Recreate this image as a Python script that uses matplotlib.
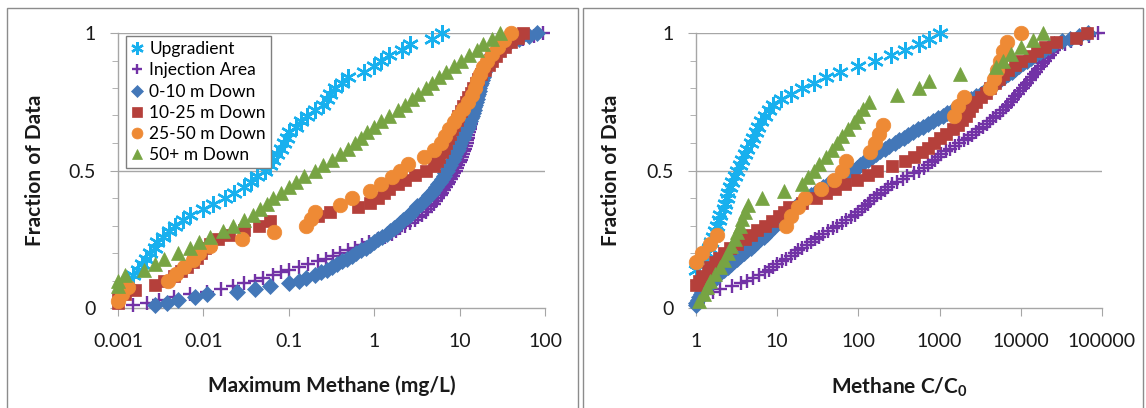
import numpy as np
import matplotlib
matplotlib.use("Agg")
import matplotlib.pyplot as plt
from matplotlib.patches import Rectangle

plt.rcParams['font.family'] = ['Lato', 'DejaVu Sans']
plt.rcParams['mathtext.fontset'] = 'custom'
plt.rcParams['mathtext.rm'] = 'Lato'
plt.rcParams['mathtext.bf'] = 'Lato:bold'

# ---- series names / styles ----
names = ["Upgradient", "Injection Area", "0-10 m Down", "10-25 m Down", "25-50 m Down", "50+ m Down"]
colors = ["#18B0EE", "#7232A6", "#4377B8", "#B5403B", "#EE8A35", "#77A443"]
markers = [(6, 2, 0), "+", "D", "s", "o", "^"]
msizes = [12, 10, 8, 9, 10.5, 9.5]

# ---- left panel: maximum methane (mg/L), sorted values (empirical CDF) ----
# values below 0.001 are non-detects (counted, not visible)
left_upgradient = [0.0005, 0.0005, 0.0005, 0.0011, 0.0013, 0.0015, 0.0017, 0.0019, 0.0021, 0.0024,
                   0.0027, 0.0029, 0.0034, 0.004, 0.0047, 0.0057, 0.007, 0.01, 0.013, 0.018,
                   0.023, 0.03, 0.036, 0.043, 0.052, 0.06, 0.066, 0.073, 0.08, 0.087,
                   0.094, 0.1, 0.12, 0.14, 0.165, 0.2, 0.25, 0.28, 0.3, 0.35,
                   0.42, 0.5, 0.75, 1.0, 1.2, 1.5, 2.1, 2.6, 4.8, 6.3]
left_injection = [0.0015, 0.0022, 0.003, 0.0045, 0.007, 0.011, 0.016, 0.022, 0.03, 0.04,
                  0.05, 0.065, 0.08, 0.1, 0.13, 0.17, 0.22, 0.27, 0.33, 0.4,
                  0.5, 0.6, 0.72, 0.88, 1.1, 1.35, 1.6, 1.8, 2.0, 2.3,
                  2.6, 3.0, 3.3, 3.6, 4.0, 4.3, 4.6, 5.0, 5.3, 5.6,
                  6.0, 6.3, 6.6, 7.0, 7.3, 7.6, 8.0, 8.3, 8.6, 9.0,
                  9.3, 9.6, 10, 10.3, 10.6, 10.9, 11.2, 11.5, 11.8, 12.1,
                  12.3, 12.5, 12.7, 12.9, 13.1, 13.3, 13.5, 13.7, 13.9, 14.1,
                  14.4, 14.7, 15.0, 15.3, 15.6, 15.9, 16.2, 16.5, 16.8, 17.2,
                  17.6, 18.0, 18.4, 18.8, 19.2, 19.6, 20.0, 20.5, 21, 22,
                  23, 24, 26, 28, 31, 35, 42, 55, 75, 95]
left_down0_10 = [0.0027, 0.0037, 0.005, 0.008, 0.011, 0.025, 0.04, 0.06, 0.1, 0.13,
                 0.16, 0.2, 0.24, 0.28, 0.32, 0.37, 0.42, 0.48, 0.55, 0.62,
                 0.7, 0.8, 0.9, 1.0, 1.1, 1.25, 1.4, 1.55, 1.7, 1.85,
                 2.0, 2.2, 2.4, 2.6, 2.8, 3.0, 3.2, 3.5, 3.8, 4.1,
                 4.4, 4.7, 5.0, 5.3, 5.6, 5.9, 6.2, 6.5, 6.8, 7.1,
                 7.4, 7.7, 8.0, 8.3, 8.6, 8.9, 9.2, 9.5, 9.8, 10.1,
                 10.5, 10.9, 11.3, 11.7, 12.1, 12.5, 12.9, 13.3, 13.7, 14.0,
                 14.3, 14.6, 14.9, 15.2, 15.5, 15.8, 16.1, 16.4, 16.7, 17.0,
                 17.4, 17.8, 18.2, 18.6, 19.0, 19.4, 19.8, 20.3, 20.8, 21.5,
                 22.5, 23.5, 25, 27, 30, 34, 40, 50, 65, 80]
left_down10_25 = [0.001, 0.001, 0.0012, 0.0016, 0.0027, 0.0035, 0.0045, 0.0055, 0.0065, 0.0075,
                  0.0085, 0.0095, 0.0105, 0.012, 0.015, 0.02, 0.03, 0.045, 0.06, 0.22,
                  0.3, 0.65, 0.9, 1.1, 1.3, 1.5, 1.9, 2.3, 3.0, 4.0,
                  5.0, 5.5, 5.8, 6.2, 6.6, 7.0, 7.4, 7.8, 8.2, 8.7,
                  9.2, 9.7, 10.3, 11, 11.8, 12.6, 13.5, 14.5, 15.5, 16.5,
                  18, 20, 22, 24, 27, 30, 34, 40, 48, 55]
left_down25_50 = [0.001, 0.0011, 0.0013, 0.0038, 0.0048, 0.006, 0.0075, 0.009, 0.012, 0.028,
                  0.068, 0.16, 0.18, 0.2, 0.4, 0.55, 0.9, 1.2, 1.6, 2.0,
                  2.5, 3.8, 5.0, 6.0, 6.8, 7.5, 8.5, 9.5, 11, 12.5,
                  14, 15, 16, 17.5, 19, 21, 24, 28, 33, 40]
left_down50 = [0.0005, 0.0005, 0.0005, 0.001, 0.001, 0.0012, 0.002, 0.0027, 0.0035, 0.005,
               0.007, 0.009, 0.012, 0.017, 0.022, 0.03, 0.038, 0.046, 0.055, 0.066,
               0.08, 0.1, 0.12, 0.15, 0.2, 0.25, 0.32, 0.4, 0.5, 0.6,
               0.7, 0.82, 1.0, 1.2, 1.5, 1.9, 2.3, 2.8, 3.3, 4.0,
               4.8, 5.8, 7.0, 8.5, 10.5, 13, 16, 19, 24, 30]

# ---- right panel: methane C/C0 ----
right_upgradient = [0.5, 0.5, 0.5, 0.5, 0.5, 0.5, 1.0, 1.1, 1.2, 1.35,
                    1.45, 1.55, 1.6, 1.7, 1.8, 1.9, 2.0, 2.2, 2.3, 2.4,
                    2.5, 2.6, 2.8, 3.0, 3.2, 3.5, 3.7, 4.0, 4.3, 4.7,
                    5.1, 5.5, 5.8, 6.4, 7.0, 8, 9, 11, 15, 20,
                    28, 40, 60, 100, 160, 250, 380, 550, 750, 1000]
right_injection = [1.0, 1.05, 1.1, 1.2, 1.35, 1.6, 2.0, 2.8, 3.6, 4.3,
                   5.0, 6.0, 7.0, 8.0, 9.0, 10, 11.5, 13, 15, 16.5,
                   18, 20, 23, 26, 29, 33, 37, 42, 48, 55,
                   62, 70, 80, 90, 100, 110, 120, 130, 140, 155,
                   170, 190, 210, 230, 260, 300, 350, 400, 480, 560,
                   640, 720, 800, 880, 960, 1050, 1200, 1350, 1550, 1750,
                   2000, 2250, 2500, 2800, 3100, 3400, 3800, 4200, 4600, 5000,
                   5500, 6000, 6500, 7000, 7500, 8000, 8600, 9200, 9800, 10500,
                   11200, 12000, 12800, 13600, 14500, 15500, 16500, 17500, 18700, 20000,
                   21500, 23000, 24500, 26000, 29000, 35000, 42000, 55000, 70000, 90000]
right_down0_10 = [1.0, 1.0, 1.05, 1.1, 1.15, 1.2, 1.3, 1.4, 1.5, 1.6,
                  1.7, 1.85, 2.0, 2.2, 2.45, 2.7, 2.95, 3.2, 3.5, 3.9,
                  4.3, 4.7, 5.2, 5.7, 6.2, 6.8, 7.4, 8.0, 8.6, 9.3,
                  10, 11, 12, 13, 14, 15.5, 17, 19, 21, 23,
                  26, 29, 33, 37, 42, 48, 56, 64, 74, 85,
                  95, 105, 117, 130, 145, 165, 185, 210, 240, 280,
                  320, 360, 410, 470, 540, 620, 720, 830, 950, 1100,
                  1250, 1450, 1650, 1900, 2150, 2450, 2800, 3200, 3600, 4000,
                  4500, 5000, 5600, 6200, 6900, 7700, 8600, 9600, 10700, 12000,
                  13500, 15000, 17000, 19500, 22000, 26000, 32000, 40000, 52000, 67000]
right_down10_25 = [0.5, 0.5, 0.5, 0.5, 1.0, 1.1, 1.2, 1.4, 1.5, 1.7,
                   1.9, 2.2, 2.6, 3.2, 4.0, 4.8, 5.6, 7.0, 8.6, 10.5,
                   12, 14, 20, 30, 40, 52, 68, 95, 130, 170,
                   260, 380, 480, 600, 720, 850, 1000, 1200, 1450, 1700,
                   1900, 2100, 2300, 2500, 2800, 3200, 3700, 4200, 4800, 5400,
                   6000, 7000, 8500, 10000, 13000, 16000, 20000, 27000, 48000, 65000]
right_down25_50 = [0.5, 0.5, 0.5, 0.5, 1.0, 1.2, 1.5, 1.8, 13, 15,
                   18, 22, 35, 50, 62, 70, 140, 160, 180, 200,
                   1500, 1700, 2000, 4200, 4700, 5100, 5500, 6000, 6700, 10000]
right_down50 = [1.1, 1.25, 1.35, 1.5, 1.7, 1.95, 2.2, 2.5, 2.7, 3.0,
                3.2, 3.5, 3.7, 4.0, 4.4, 6.5, 12, 20, 24, 28,
                33, 40, 47, 55, 63, 75, 88, 100, 115, 135,
                300, 550, 750, 1800, 5000, 6000, 7500, 10000, 14000, 19000]

left_sets = [left_upgradient, left_injection, left_down0_10, left_down10_25, left_down25_50, left_down50]
right_sets = [right_upgradient, right_injection, right_down0_10, right_down10_25, right_down25_50, right_down50]

left_ticks = [0.001, 0.01, 0.1, 1, 10, 100]
left_ticklabels = ["0.001", "0.01", "0.1", "1", "10", "100"]
right_ticks = [1, 10, 100, 1000, 10000, 100000]
right_ticklabels = ["1", "10", "100", "1000", "10000", "100000"]

W, H = 1146, 408
fig = plt.figure(figsize=(W / 100, H / 100), dpi=100)

# panel frames
for x0, x1 in [(7, 578), (583, 1143)]:
    fig.patches.append(Rectangle((x0 / W, -0.05), (x1 - x0) / W, (H - 8) / H + 0.05,
                                 transform=fig.transFigure, fill=False,
                                 edgecolor="#8c8c8c", lw=1.0))

grey = "#a6a6a6"


def draw_panel(ax, sets, ticks, ticklabels, xlabel, ylabel_x):
    xmin, xmax = ticks[0], ticks[-1]
    ax.set_xscale("log")
    ax.set_xlim(xmin, xmax)
    ax.set_ylim(0, 1)
    for i, vals in enumerate(sets):
        x = np.array(vals, dtype=float)
        f = np.arange(1, len(x) + 1) / len(x)
        keep = x >= xmin
        ax.plot(x[keep], f[keep], linestyle="none", marker=markers[i], ms=msizes[i],
                color=colors[i], mec=colors[i], mew=1.7 if i < 2 else 0.5,
                label=names[i], clip_on=False, zorder=3 + i)
    ax.set_xticks(ticks)
    ax.set_xticklabels(ticklabels)
    ax.xaxis.set_minor_locator(matplotlib.ticker.NullLocator())
    ax.set_yticks([0, 0.5, 1])
    ax.set_yticklabels(["0", "0.5", "1"])
    ax.set_yticks(np.arange(0, 1.01, 0.1), minor=True)
    for v in (0.5, 1.0):
        ax.axhline(v, color=grey, lw=1.0, zorder=1)
    for s in ("top", "right"):
        ax.spines[s].set_visible(False)
    for s in ("left", "bottom"):
        ax.spines[s].set_color(grey)
        ax.spines[s].set_linewidth(1.0)
    ax.tick_params(axis="x", which="major", direction="out", length=6, color=grey,
                   labelsize=14, pad=12, labelcolor="#1a1a1a")
    ax.tick_params(axis="y", which="major", direction="out", length=6, color=grey,
                   labelsize=14, pad=10, labelcolor="#1a1a1a")
    ax.tick_params(axis="y", which="minor", direction="out", length=4, color=grey)
    ax.set_xlabel(xlabel, fontsize=15, fontweight="bold", color="#1a1a1a")
    ax.xaxis.set_label_coords(0.5, -0.245)
    ax.set_ylabel("Fraction of Data", fontsize=15, fontweight="bold", color="#1a1a1a")
    ax.yaxis.set_label_coords(ylabel_x, 0.5)


axL = fig.add_axes([118 / W, 1 - 308 / H, (545 - 118) / W, 275 / H])
draw_panel(axL, left_sets, left_ticks, left_ticklabels, "Maximum Methane (mg/L)", -0.17)

axR = fig.add_axes([696 / W, 1 - 308 / H, (1102 - 696) / W, 275 / H])
draw_panel(axR, right_sets, right_ticks, right_ticklabels,
           r"Methane C/C$_{\mathbf{0}}$", -0.185)

leg = axL.legend(loc="upper left", bbox_to_anchor=(126 / W, 1 - 36 / H),
                 bbox_transform=fig.transFigure, fontsize=12.5, frameon=True,
                 fancybox=False, edgecolor="#7f7f7f", framealpha=1,
                 handlelength=0.7, handletextpad=0.35, labelspacing=0.3,
                 borderpad=0.3, borderaxespad=0, markerscale=0.75)
leg.get_frame().set_linewidth(1.0)
leg.set_zorder(20)

fig.savefig("out.png", dpi=100)
